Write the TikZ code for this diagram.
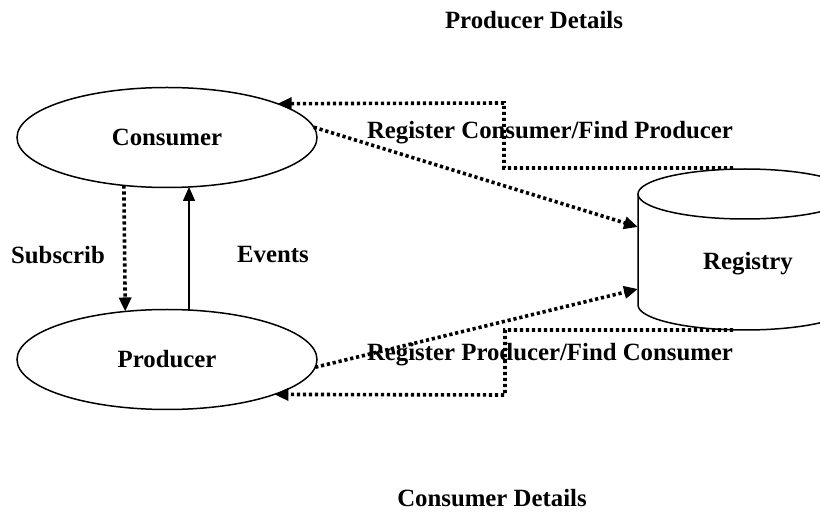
\documentclass[tikz,border=0pt]{standalone}
\usepackage{fontspec}
\setmainfont{Liberation Serif}
\usetikzlibrary{shapes.geometric,arrows.meta}

\begin{document}
\begin{tikzpicture}[x=0.5pt,y=0.5pt,
    font=\fontsize{12.4}{14}\selectfont\bfseries,
    blob/.style={draw, ellipse, line width=0.75pt, minimum width=150pt, minimum height=50pt, inner sep=0pt, outer sep=0pt},
    dotarrow/.style={line width=1.8pt, dash pattern=on 1.6pt off 1.4pt, -{Triangle[length=7pt,width=6pt]}},
    solidarrow/.style={line width=0.6pt, -{Triangle[length=7pt,width=6pt]}}]
\useasboundingbox (0,0) rectangle (820,-513);
\node[blob] (consumer) at (167,-137.5) {Consumer};
\node[blob] (producer) at (167,-359.5) {Producer};
\draw[line width=0.75pt] (638,-194) -- (638,-305) arc (180:360:53.5pt and 12.5pt) -- (852,-194);
\draw[line width=0.75pt] (745,-194) ellipse (53.5pt and 12.5pt);
\node (registry) at (748,-264) {Registry};
\coordinate (regtop) at (733,-168);
\coordinate (regbot) at (733,-330);
\coordinate (regin1) at (638,-227);
\coordinate (regin2) at (638,-289);
\coordinate (turnA) at (504,-103);
\coordinate (turnB) at (505,-395);
\draw[dotarrow] (consumer.4) -- (regin1);
\draw[dotarrow] (regtop) -| (turnA) -- (consumer.17.6);
\draw[dotarrow] (producer.-3) -- (regin2);
\draw[dotarrow] (regbot) -| (turnB) -- (producer.-18.6);
\draw[dotarrow] (consumer.228.8) -- (producer.131.2);
\draw[solidarrow] (producer.66) -- (consumer.-66);
\node (subscrib) at (58,-255) {Subscrib};
\node (events) at (273,-255) {Events};
\node (regcons) at (550,-133) {Register Consumer/Find Producer};
\node (regprod) at (550,-355) {Register Producer/Find Consumer};
\node (proddetails) at (534,-20) {Producer Details};
\node (consdetails) at (492,-498) {Consumer Details};
\end{tikzpicture}
\end{document}
